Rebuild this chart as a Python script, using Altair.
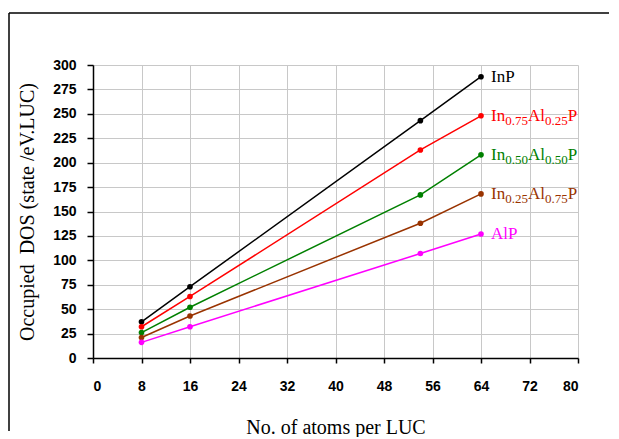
import altair as alt
import pandas as pd

# ---- data ----
x_atoms = [8, 16, 54, 64]
series_names = ["InP", "In0.75Al0.25P", "In0.50Al0.50P", "In0.25Al0.75P", "AlP"]
inp = [37, 73, 243, 288]
in075 = [32, 63, 213, 248]
in050 = [26, 52, 167, 208]
in025 = [21, 43, 138, 168]
alp = [16, 32, 107, 127]
series_values = [inp, in075, in050, in025, alp]
colors = ["#000000", "#ff0000", "#008000", "#993300", "#ff00ff"]
x_ticks = list(range(0, 81, 8))
y_ticks = list(range(0, 301, 25))

# label text pieces: main, subscript, main, subscript, main
label_pieces = [
    ["InP", "", "", "", ""],
    ["In", "0.75", "Al", "0.25", "P"],
    ["In", "0.50", "Al", "0.50", "P"],
    ["In", "0.25", "Al", "0.75", "P"],
    ["AlP", "", "", "", ""],
]

rows = []
for name, vals in zip(series_names, series_values):
    for xv, yv in zip(x_atoms, vals):
        rows.append({"series": name, "atoms": xv, "dos": yv})
df = pd.DataFrame(rows)

lab_rows = []
for name, vals, pieces in zip(series_names, series_values, label_pieces):
    r = {"series": name, "atoms": x_atoms[-1], "dos": vals[-1]}
    for i, p in enumerate(pieces):
        r[f"p{i}"] = p
    lab_rows.append(r)
lab = pd.DataFrame(lab_rows)

W, H = 485, 293
MAIN, SUB = 17, 13
# Times-metric advance widths
w_in = 0.833 * MAIN
w_sub = 1.75 * SUB
w_al = 1.0 * MAIN
start = 10
offsets = [start, start + w_in, start + w_in + w_sub, start + w_in + w_sub + w_al,
           start + 2 * w_sub + w_in + w_al]
sizes = [MAIN, SUB, MAIN, SUB, MAIN]
dys = [5.5, 9.5, 5.5, 9.5, 5.5]

color = alt.Color("series:N", scale=alt.Scale(domain=series_names, range=colors), legend=None)
x_enc = alt.X("atoms:Q", scale=alt.Scale(domain=[0, 80], nice=False),
              axis=alt.Axis(values=x_ticks, title="No. of atoms per LUC", tickSize=5,
                            labelPadding=16, titlePadding=24, grid=True))
y_enc = alt.Y("dos:Q", scale=alt.Scale(domain=[0, 300], nice=False),
              axis=alt.Axis(values=y_ticks, title="Occupied\u00a0 DOS (state /eV.LUC)",
                            tickSize=6, labelPadding=11, titlePadding=15, grid=True))

base = alt.Chart(df)
lines = base.mark_line(strokeWidth=1.5).encode(x=x_enc, y=y_enc, color=color)
points = base.mark_circle(size=32, opacity=1).encode(x=x_enc, y=y_enc, color=color)

texts = []
for i in range(5):
    texts.append(
        alt.Chart(lab).mark_text(align="left", baseline="alphabetic", dx=offsets[i], dy=dys[i],
                                 fontSize=sizes[i], font="Liberation Serif")
        .encode(x=x_enc, y=y_enc, text=f"p{i}:N", color=color)
    )

frame_df = pd.DataFrame({"k": [0]})
frame_v = alt.Chart(frame_df).mark_rule(color="black", strokeWidth=1.5).encode(
    x=alt.value(-84), y=alt.value(-52), y2=alt.value(366))
frame_h = alt.Chart(frame_df).mark_rule(color="black", strokeWidth=1.5).encode(
    x=alt.value(-84), x2=alt.value(516), y=alt.value(-52))

chart = alt.layer(frame_v, frame_h, lines, points, *texts).properties(
    width=W, height=H, padding={"left": 0, "top": 4, "right": 0, "bottom": 0}
).configure_axis(
    domainColor="black", domainWidth=1.5, tickColor="black", tickWidth=1.5,
    gridColor="#c8c8c8", gridWidth=1,
    labelFont="Liberation Sans", labelFontWeight="bold", labelFontSize=14, labelColor="black",
    titleFont="Liberation Serif", titleFontSize=20, titleFontWeight="normal", titleColor="black",
).configure_view(strokeWidth=0)

chart.save("out.html", embed_options={"renderer": "svg", "actions": False})
